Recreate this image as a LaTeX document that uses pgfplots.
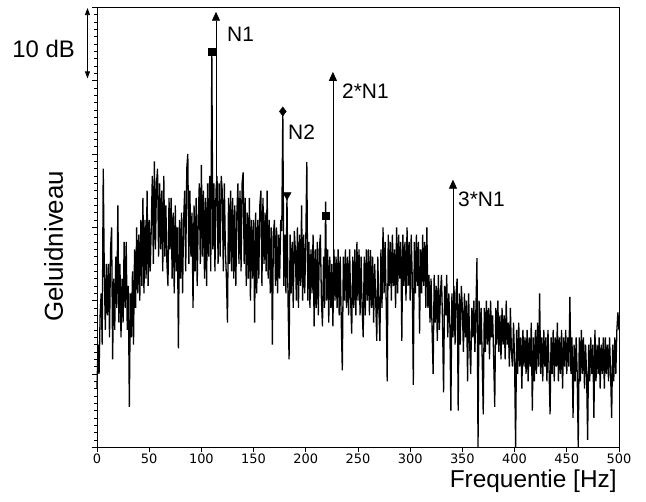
\documentclass[border=0pt]{standalone}
\usepackage{pgfplots}
\pgfplotsset{compat=1.18}
\usepackage{fontspec}
\setmainfont{Liberation Sans}
\newfontfamily\tickfont{DejaVu Sans}
\usetikzlibrary{arrows.meta}
\begin{document}
\begin{tikzpicture}
\begin{axis}[
  scale only axis, width=522bp, height=440bp,
  xmin=0, xmax=500, ymin=0, ymax=60,
  clip=false,
  axis line style={line width=0.8pt},
  tick pos=left, tick align=outside,
  xtick={0,50,...,500},
  ytick={0,10,...,60}, yticklabels={},
  minor y tick num=9,
  major tick length=4.5bp, minor tick length=2.5bp,
  tick style={line width=0.6pt, black},
  /pgf/number format/assume math mode=true,
  xticklabel style={font=\tickfont\fontsize{13}{13}\selectfont, inner sep=2pt},
]
\addplot[black, line width=1.3pt, sharp plot, line join=bevel] table[row sep=\\, x expr=\coordindex, y index=0] {
y\\
8\\ 14\\ 10\\ 18\\ 21\\ 14\\ 38\\ 24\\ 16\\ 25\\
18\\ 25\\ 15\\ 27\\ 30\\ 12\\ 23\\ 16\\ 26\\ 19\\
33\\ 17\\ 25\\ 15\\ 23\\ 17\\ 28\\ 19\\ 28\\ 16\\
22\\ 5.5\\ 21\\ 15\\ 24\\ 14\\ 27\\ 19\\ 30\\ 21\\
29\\ 20\\ 31\\ 22\\ 34\\ 21\\ 31\\ 23\\ 35\\ 22\\
31\\ 24\\ 30\\ 37\\ 25\\ 39\\ 27\\ 36\\ 38\\ 26\\
36\\ 27\\ 35\\ 24\\ 37\\ 26\\ 33\\ 25\\ 22\\ 34\\
27\\ 34\\ 23\\ 32\\ 21\\ 33\\ 24\\ 30\\ 13.5\\ 31\\
23\\ 32\\ 21\\ 31\\ 35\\ 24\\ 38\\ 40\\ 25\\ 35\\
26\\ 32\\ 19\\ 33\\ 24\\ 34\\ 22\\ 31\\ 36\\ 25\\
38.5\\ 26\\ 35\\ 23\\ 34\\ 22\\ 36\\ 26\\ 37\\ 24\\
54\\ 27\\ 36\\ 24\\ 35\\ 37\\ 25\\ 36\\ 26\\ 37\\
35\\ 24\\ 36\\ 27\\ 23\\ 17\\ 34\\ 25\\ 35\\ 24\\
34\\ 23\\ 33\\ 22\\ 32\\ 36\\ 25\\ 35\\ 24\\ 36\\
37.5\\ 25\\ 34\\ 22\\ 32\\ 23\\ 34\\ 20\\ 31\\ 23\\
31\\ 17\\ 32\\ 21\\ 31\\ 23\\ 33\\ 35\\ 22\\ 34\\
25\\ 32\\ 24\\ 35\\ 23\\ 31\\ 21\\ 30\\ 14\\ 29\\
31\\ 22\\ 30\\ 21\\ 29\\ 23\\ 31\\ 29.5\\ 45.8\\ 22\\
29\\ 21\\ 34.4\\ 20\\ 12\\ 29\\ 21\\ 28\\ 19\\ 29.5\\
27\\ 20\\ 30\\ 19\\ 29\\ 22\\ 33\\ 20\\ 29\\ 21\\
28\\ 38.9\\ 20\\ 28\\ 19\\ 27\\ 21\\ 29\\ 16.5\\ 27\\
19\\ 28\\ 18\\ 27\\ 29\\ 20\\ 16.5\\ 26\\ 19\\ 33.5\\
20\\ 27\\ 17\\ 26\\ 19\\ 25\\ 16.5\\ 27\\ 20\\ 26\\
19\\ 27\\ 18\\ 26\\ 17\\ 10.5\\ 26\\ 20\\ 27\\ 19\\
26\\ 18\\ 27\\ 20\\ 15.5\\ 26\\ 19\\ 27\\ 18\\ 28\\
20\\ 27\\ 18\\ 26\\ 19\\ 15\\ 26\\ 18\\ 27\\ 20\\
27\\ 18\\ 26.9\\ 19\\ 26\\ 17\\ 25\\ 20\\ 14.5\\ 26\\
19\\ 14.5\\ 27\\ 19\\ 30\\ 21\\ 28\\ 20\\ 9\\ 29\\
22\\ 28\\ 20\\ 29\\ 22\\ 27\\ 19\\ 30\\ 21\\ 29\\
23\\ 28\\ 14.5\\ 29\\ 22\\ 28\\ 20\\ 30\\ 22\\ 28\\
20\\ 29\\ 23\\ 8.5\\ 28\\ 21\\ 29\\ 22\\ 28\\ 15.5\\
27\\ 21\\ 29\\ 22\\ 28\\ 19\\ 30\\ 19\\ 23.5\\ 17\\
23\\ 16\\ 10\\ 23.5\\ 17\\ 22\\ 14.5\\ 23.5\\ 16\\ 21\\
23.5\\ 17\\ 7.5\\ 22\\ 18\\ 23.5\\ 15\\ 21\\ 17\\ 5\\
21\\ 15\\ 22\\ 14\\ 21\\ 23\\ 5\\ 21\\ 14\\ 22\\
19\\ 13\\ 21\\ 15\\ 20\\ 9\\ 21\\ 14\\ 10\\ 19\\
15\\ 20\\ 13\\ 19\\ 25.8\\ 0\\ 20\\ 14\\ 19\\ 12\\
4.5\\ 19\\ 13\\ 20\\ 14\\ 19\\ 12\\ 20\\ 15\\ 18\\
12\\ 5.5\\ 19\\ 14\\ 20\\ 13\\ 18\\ 12\\ 19\\ 14\\
18\\ 12\\ 20\\ 14\\ 17\\ 11\\ 19\\ 13\\ 11\\ 17\\
12\\ 0\\ 16\\ 10\\ 17\\ 11\\ 15\\ 8\\ 16\\ 11\\
15\\ 10\\ 16\\ 9\\ 15\\ 11\\ 17\\ 5\\ 15\\ 9\\
16\\ 10\\ 17\\ 11\\ 21\\ 10\\ 15\\ 9\\ 16\\ 11\\
15\\ 9\\ 16\\ 11\\ 4.5\\ 15\\ 10\\ 16\\ 9\\ 15\\
11\\ 17\\ 9\\ 15\\ 10\\ 16\\ 8\\ 15\\ 11\\ 16\\
10\\ 15\\ 11\\ 20.5\\ 10\\ 15\\ 4\\ 14\\ 9\\ 15\\
10\\ 0\\ 15\\ 9\\ 16\\ 10\\ 15\\ 8\\ 14\\ 10\\
1\\ 14\\ 9\\ 15\\ 10\\ 14\\ 4\\ 16\\ 9\\ 14\\
10\\ 15\\ 8\\ 14\\ 10\\ 15\\ 8\\ 15\\ 10\\ 14\\
9\\ 15\\ 10\\ 4\\ 14\\ 9\\ 15\\ 10\\ 16\\ 18.4\\
16\\
};
% harmonic arrows
\addplot[black, line width=0.8pt, -{Triangle[width=8bp,length=9bp]}] coordinates {(114,33) (114,59.4)};
\addplot[black, line width=0.8pt, -{Triangle[width=8bp,length=9bp]}] coordinates {(226,24) (226,51.2)};
\addplot[black, line width=0.8pt, -{Triangle[width=8bp,length=9bp]}] coordinates {(341,18) (341,36.5)};
% markers
\addplot[only marks, mark=square*, mark size=3.5bp, black] coordinates {(110,53.9) (219,31.6)};
\addplot[only marks, mark=diamond*, mark size=4.6bp, black] coordinates {(178,45.8)};
\addplot[only marks, mark=triangle*, mark size=4.8bp, black, mark options={rotate=180}] coordinates {(182,34.4)};
% labels
\node[anchor=base west, inner sep=0, font=\fontsize{21}{21}\selectfont] at (axis cs:124.5,55.3) {N1};
\node[anchor=base west, inner sep=0, font=\fontsize{21}{21}\selectfont] at (axis cs:183,42) {N2};
\node[anchor=base west, inner sep=0, font=\fontsize{21}{21}\selectfont] at (axis cs:234.7,47.5) {2*N1};
\node[anchor=base west, inner sep=0, font=\fontsize{21}{21}\selectfont] at (axis cs:345.8,32.9) {3*N1};
% 10 dB scale
\draw[line width=0.8pt, {Triangle[width=5bp,length=7bp]}-{Triangle[width=5bp,length=7bp]}] (axis cs:-9.1,59.9) -- (axis cs:-9.1,50.3);
\node[anchor=base east, inner sep=0, font=\fontsize{24}{24}\selectfont] at (axis cs:-21,53.2) {10 dB};
% axis titles
\node[anchor=base, rotate=90, inner sep=0, font=\fontsize{26}{26}\selectfont] at (axis cs:-32.6,27.4) {Geluidniveau};
\node[anchor=base east, inner sep=0, font=\fontsize{24.5}{24.5}\selectfont] at (axis cs:498,-5.46) {Frequentie [Hz]};
% page size
\path (axis cs:-92.9,-7.37) rectangle (axis cs:525.9,61.0);
\end{axis}
\end{tikzpicture}
\end{document}
